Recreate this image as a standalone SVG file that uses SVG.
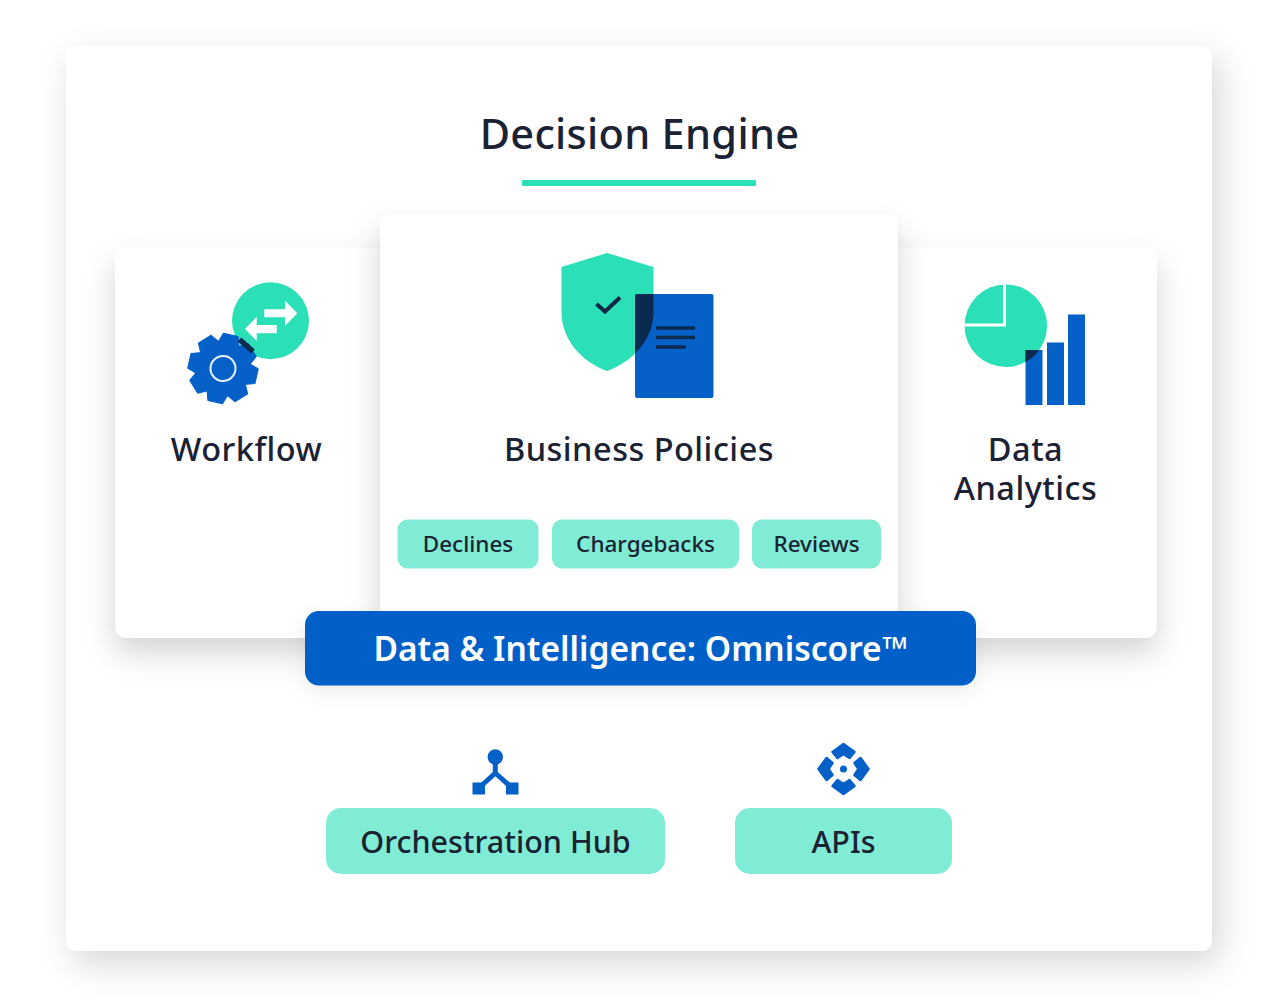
<svg xmlns="http://www.w3.org/2000/svg" width="1280" height="1006" viewBox="0 0 1280 1006">
<style>
text{font-family:"Noto Sans","Open Sans","Liberation Sans",sans-serif;fill:#1a2233;text-anchor:middle;font-weight:500}
.card{fill:#fff}
.chip{fill:#80ecd5}
.mint{fill:#2bdfb7}
.blue{fill:#0560c8}
.dark{fill:#0b2a50}
.t1{font-size:41.500px;letter-spacing:.3px}
.t2{font-size:32.500px;letter-spacing:.5px}
.t3{font-size:22.500px}
.t4{font-size:30.500px}
</style>
<defs>
<filter id="shOuter" x="-15%" y="-15%" width="130%" height="130%"><feDropShadow dx="7" dy="12" stdDeviation="17" flood-color="#000" flood-opacity="0.16"/></filter>
<filter id="sh" x="-20%" y="-20%" width="140%" height="140%"><feDropShadow dx="0" dy="15" stdDeviation="15" flood-color="#000" flood-opacity="0.17"/></filter>
<filter id="sh2" x="-15%" y="-30%" width="130%" height="170%"><feDropShadow dx="0" dy="6" stdDeviation="10" flood-color="#000" flood-opacity="0.08"/></filter>
<path id="shield" d="M607 253L653.500 267V312C653.500 340 632 362 607 371C582 362 561.500 340 561.500 312V267Z"/>
<clipPath id="docClip"><rect x="635" y="294" width="78.500" height="104" rx="2"/></clipPath>
<clipPath id="barClip"><rect x="1025.500" y="350" width="17" height="55"/></clipPath>
<path id="chev" d="M-11 -17L0 -25L11 -17L6 -11L0 -15L-6 -11Z" fill="#0560c8" stroke="#0560c8" stroke-width="2.500" stroke-linejoin="round"/>
<path id="tooth" d="M-11 -24L-7.500 -34.500H7.500L11 -24Z" fill="#0560c8" stroke="#0560c8" stroke-width="1" stroke-linejoin="round"/>
</defs>
<rect width="1280" height="1006" fill="#fff"/>
<g id="panel"><rect class="card" x="66" y="46" width="1146" height="905" rx="10" filter="url(#shOuter)"/></g>
<g id="title"><text class="t1" x="639.500" y="149">Decision Engine</text><rect x="522" y="180" width="234" height="6" rx="1" class="mint"/></g>
<g id="workflow">
<rect class="card" x="115" y="247" width="320" height="391" rx="12" filter="url(#sh)"/>
<circle class="mint" cx="270.500" cy="320.700" r="38.500"/>
<path d="M264.300 309.300H285V300.700L297.300 313.300L285 326V317.300H264.300Z" fill="#fff"/>
<path d="M276.700 325H256.700V316.700L245 329L256.700 341V333.300H276.700Z" fill="#fff"/>
<g transform="translate(223 368.500) rotate(13)">
<circle r="27" class="blue"/>
<use href="#tooth"/><use href="#tooth" transform="rotate(45)"/><use href="#tooth" transform="rotate(90)"/><use href="#tooth" transform="rotate(135)"/><use href="#tooth" transform="rotate(180)"/><use href="#tooth" transform="rotate(225)"/><use href="#tooth" transform="rotate(270)"/><use href="#tooth" transform="rotate(315)"/>
<circle r="12.500" fill="none" stroke="#e8f3fb" stroke-width="2"/>
</g>
<path d="M239.500 339.500L253 351.500" stroke="#0b2a50" stroke-width="5.500" fill="none"/>
<text class="t2" x="246.500" y="461">Workflow</text>
</g>
<g id="analytics">
<rect class="card" x="860" y="247" width="297" height="391" rx="12" filter="url(#sh)"/>
<circle class="mint" cx="1005.800" cy="325.700" r="41.300"/>
<path d="M1004.500 284V325H964" fill="none" stroke="#fff" stroke-width="3"/>
<rect class="blue" x="1025.500" y="350" width="17" height="55"/>
<rect class="blue" x="1047" y="342.500" width="17" height="62.500"/>
<rect class="blue" x="1068" y="314.500" width="17" height="90.500"/>
<circle class="dark" cx="1005.800" cy="325.700" r="41.300" clip-path="url(#barClip)"/>
<text class="t2" x="1025.500" y="461">Data</text>
<text class="t2" x="1025.500" y="500">Analytics</text>
</g>
<g id="policies">
<rect class="card" x="380" y="214" width="518" height="410" rx="12" filter="url(#sh)"/>
<use href="#shield" class="mint"/>
<rect class="blue" x="635" y="294" width="78.500" height="104" rx="2"/>
<use href="#shield" class="dark" clip-path="url(#docClip)"/>
<path d="M596.500 304L605 311.500L620 297.500" fill="none" stroke="#0f2b47" stroke-width="4"/>
<path d="M656 328H695M656 337.500H695M656 347H686" fill="none" stroke="#0b2a50" stroke-width="3.500"/>
<text class="t2" x="639" y="461">Business Policies</text>
</g>
<g id="declines"><rect class="chip" x="397.500" y="519.500" width="141" height="49" rx="10"/><text class="t3" x="468" y="552">Declines</text></g>
<g id="chargebacks"><rect class="chip" x="552" y="519.500" width="187" height="49" rx="10"/><text class="t3" x="645.500" y="552">Chargebacks</text></g>
<g id="reviews"><rect class="chip" x="752" y="519.500" width="129" height="49" rx="10"/><text class="t3" x="816.500" y="552">Reviews</text></g>
<g id="omniscore"><rect class="blue" x="305" y="611" width="671" height="74.500" rx="14" filter="url(#sh2)"/><text x="640.500" y="661" font-size="33.500" style="fill:#fff;font-weight:600">Data &amp; Intelligence: Omniscore™</text></g>
<g id="hub">
<path d="M495.300 757V773L479 788M495.300 773L512 788" fill="none" stroke="#0560c8" stroke-width="5"/>
<circle class="blue" cx="495.300" cy="757" r="7.700"/>
<rect class="blue" x="472.500" y="782.500" width="12.500" height="12"/>
<rect class="blue" x="506" y="782.500" width="12.500" height="12"/>
<rect class="chip" x="326" y="808" width="339" height="66" rx="15"/>
<text class="t4" x="495.500" y="853">Orchestration Hub</text>
</g>
<g id="apis">
<g transform="translate(843.500 769)"><use href="#chev"/><use href="#chev" transform="rotate(90)"/><use href="#chev" transform="rotate(180)"/><use href="#chev" transform="rotate(270)"/><circle r="3.500" class="blue"/></g>
<rect class="chip" x="735" y="808" width="217" height="66" rx="15"/>
<text class="t4" x="843.500" y="853">APIs</text>
</g>
</svg>
